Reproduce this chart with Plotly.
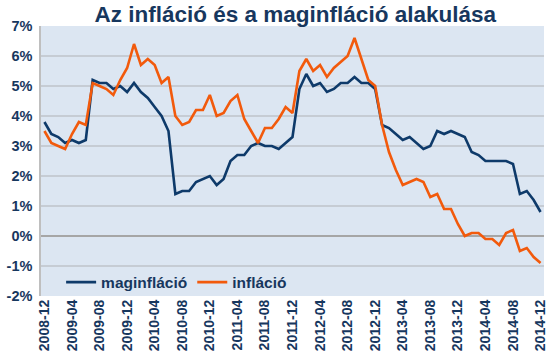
import plotly.graph_objects as go

months = []
for y in range(2008, 2015):
    for m in range(1, 13):
        if (y == 2008 and m < 12):
            continue
        months.append(f"{y}-{m:02d}")

maginflacio = [3.8, 3.4, 3.3, 3.1, 3.2, 3.1, 3.2, 5.2, 5.1, 5.1, 4.9, 5.0,
               4.8, 5.1, 4.8, 4.6, 4.3, 4.0, 3.5, 1.4, 1.5, 1.5, 1.8, 1.9,
               2.0, 1.7, 1.9, 2.5, 2.7, 2.7, 3.0, 3.1, 3.0, 3.0, 2.9, 3.1,
               3.3, 4.9, 5.4, 5.0, 5.1, 4.8, 4.9, 5.1, 5.1, 5.3, 5.1, 5.1,
               4.9, 3.7, 3.6, 3.4, 3.2, 3.3, 3.1, 2.9, 3.0, 3.5, 3.4, 3.5,
               3.4, 3.3, 2.8, 2.7, 2.5, 2.5, 2.5, 2.5, 2.4, 1.4, 1.5, 1.2,
               0.8]
inflacio = [3.5, 3.1, 3.0, 2.9, 3.4, 3.8, 3.7, 5.1, 5.0, 4.9, 4.7, 5.2,
            5.6, 6.4, 5.7, 5.9, 5.7, 5.1, 5.3, 4.0, 3.7, 3.8, 4.2, 4.2,
            4.7, 4.0, 4.1, 4.5, 4.7, 3.9, 3.5, 3.1, 3.6, 3.6, 3.9, 4.3,
            4.1, 5.5, 5.9, 5.5, 5.7, 5.3, 5.6, 5.8, 6.0, 6.6, 5.9, 5.2,
            5.0, 3.7, 2.8, 2.2, 1.7, 1.8, 1.9, 1.8, 1.3, 1.4, 0.9, 0.9,
            0.4, 0.0, 0.1, 0.1, -0.1, -0.1, -0.3, 0.1, 0.2, -0.5, -0.4, -0.7,
            -0.9]
y_ticks = [-2, -1, 0, 1, 2, 3, 4, 5, 6, 7]

navy = "#0E3A6A"
orange = "#F25A0C"
font_fam = "Arial, Liberation Sans, sans-serif"
idx = list(range(len(months)))

fig = go.Figure()
fig.add_trace(go.Scatter(x=idx, y=maginflacio, mode="lines", name="<b>maginfláció</b>",
                         line=dict(color=navy, width=2.6)))
fig.add_trace(go.Scatter(x=idx, y=inflacio, mode="lines", name="<b>infláció</b>",
                         line=dict(color=orange, width=2.6)))

fig.update_layout(
    width=555, height=362,
    margin=dict(l=41, r=7, t=26, b=66),
    paper_bgcolor="white",
    plot_bgcolor="#DCE6F2",
    title=dict(text="<b>Az infláció és a maginfláció alakulása</b>",
               x=0.532, xanchor="center", y=0.962, yanchor="middle",
               font=dict(family=font_fam, size=22.5, color="#17375E")),
    showlegend=True,
    legend=dict(orientation="h", x=0.04, xanchor="left", y=0.05, yanchor="middle",
                bgcolor="rgba(0,0,0,0)", itemwidth=30,
                font=dict(family=font_fam, size=15.5, color="#17375E")),
    xaxis=dict(range=[-0.5, 72.5], tickmode="array",
               tickvals=idx[::4], ticktext=[f"<b>{m}</b>" for m in months[::4]],
               tickangle=-90, showgrid=False, zeroline=False,
               tickfont=dict(family=font_fam, size=14, color="#17375E"),
               ticks="", showline=False),
    yaxis=dict(range=[-2, 7], tickmode="array", tickvals=y_ticks,
               ticktext=[f"<b>{v}%</b>" for v in y_ticks],
               showgrid=True, gridcolor="#C6CCD4", gridwidth=1.5,
               zeroline=True, zerolinecolor="#A6A6A6", zerolinewidth=1.5,
               showline=True, linecolor="#BFBFBF", linewidth=1.5,
               tickfont=dict(family=font_fam, size=14.5, color="#17375E"),
               ticks="", ticklabelstandoff=4),
)

fig.write_html("out.html", config={"displayModeBar": False},
               post_script="document.body.style.margin='0px';document.body.style.overflow='hidden';")
